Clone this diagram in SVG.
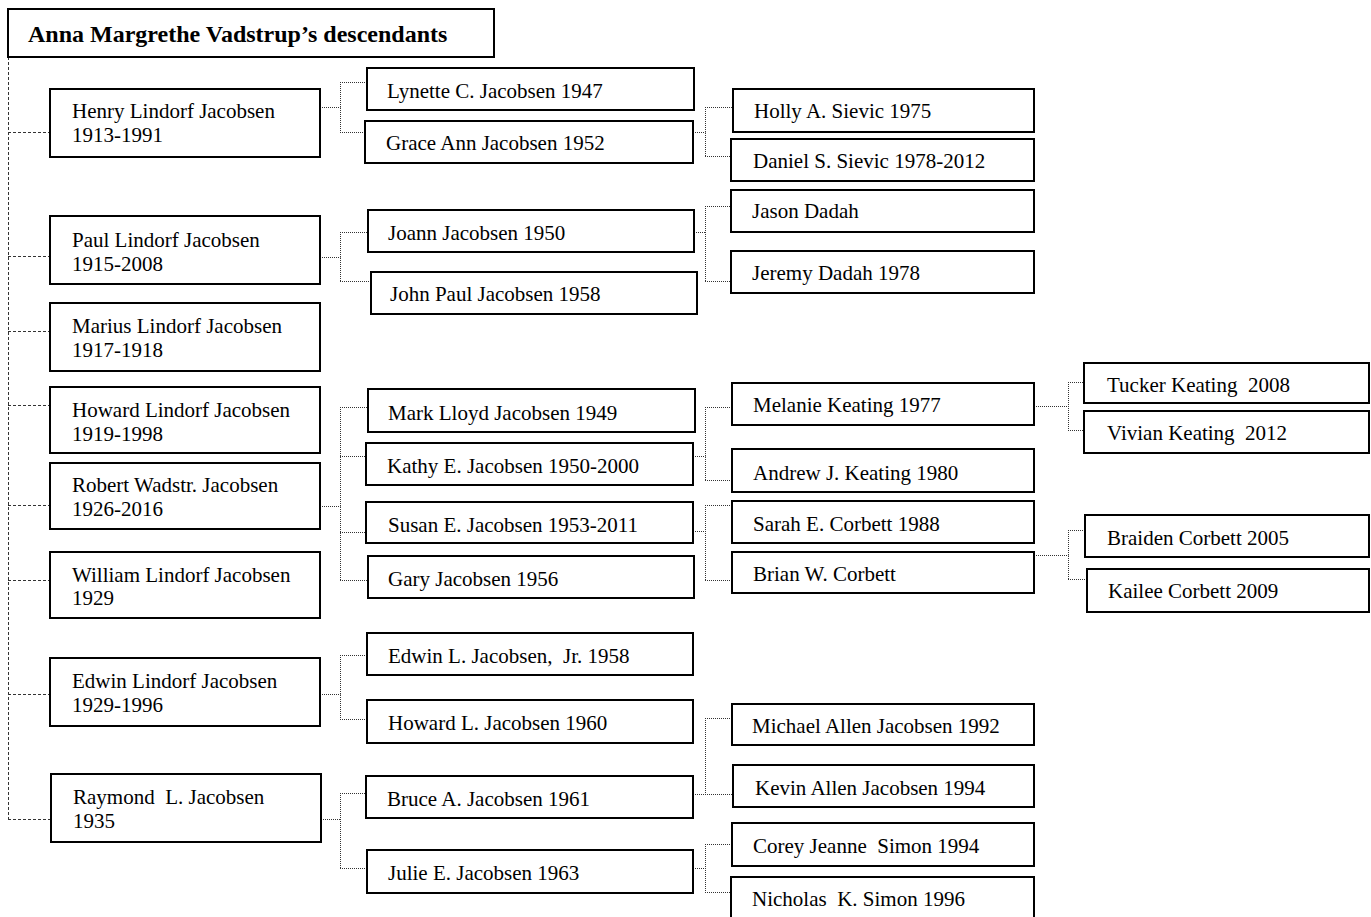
<svg xmlns="http://www.w3.org/2000/svg" width="1371" height="917" viewBox="0 0 1371 917">
  <style>
    .box { fill: #fff; stroke: #000; stroke-width: 2; }
    .name { font-family: "Liberation Serif", "Times New Roman", serif; font-size: 21px; fill: #000; white-space: pre; }
    .title { font-family: "Liberation Serif", "Times New Roman", serif; font-size: 24px; font-weight: bold; fill: #000; }
    .spine { fill: none; stroke: #333; stroke-width: 1; stroke-dasharray: 3 2; }
    .link { fill: none; stroke: #333; stroke-width: 1; stroke-dasharray: 1 1; }
  </style>
  <rect width="1371" height="917" fill="#fff"/>

  <!-- connectors -->
  <g id="connectors">
    <!-- root spine and generation 1 stubs -->
    <path class="spine" d="M8.5 57V819.5 M8 132.5H50 M8 256.5H50 M8 331.5H50 M8 405.5H50 M8 505.5H50 M8 580.5H50 M8 694.5H50 M8 819.5H51"/>
    <!-- generation 1 to 2 -->
    <path class="link" d="M320 107.5H340.5 M340.5 82V132 M340 82.5H367 M340 132.5H365"/>
    <path class="link" d="M320 257.5H340.5 M340.5 232V281 M340 232.5H368 M340 281.5H371"/>
    <path class="link" d="M320 506.5H340.5 M340.5 407V580 M340 407.5H368 M340 456.5H366 M340 532.5H366 M340 580.5H368"/>
    <path class="link" d="M320 694.5H340.5 M340.5 655V719 M340 655.5H367 M340 719.5H367"/>
    <path class="link" d="M321 819.5H340.5 M340.5 793V868 M340 793.5H366 M340 868.5H367"/>
    <!-- generation 2 to 3 -->
    <path class="link" d="M693 132.5H705.5 M705.5 107V156 M705 107.5H733 M705 156.5H731"/>
    <path class="link" d="M694 232.5H705.5 M705.5 206V281 M705 206.5H731 M705 281.5H731"/>
    <path class="link" d="M693 456.5H705.5 M705.5 407V480 M705 407.5H732 M705 480.5H732"/>
    <path class="link" d="M693 531.5H705.5 M705.5 505V580 M705 505.5H732 M705 580.5H732"/>
    <path class="link" d="M693 794.5H705.5 M705.5 718V794 M705 718.5H732 M705 794.5H733"/>
    <path class="link" d="M693 868.5H705.5 M705.5 844V892 M705 844.5H732 M705 892.5H731"/>
    <!-- generation 3 to 4 -->
    <path class="link" d="M1034 406.5H1068.5 M1068.5 382V430 M1068 382.5H1084 M1068 430.5H1084"/>
    <path class="link" d="M1034 555.5H1068.5 M1068.5 530V579 M1068 530.5H1085 M1068 579.5H1087"/>
  </g>

  <!-- root -->
  <g id="root">
    <rect class="box" x="8" y="9" width="486" height="48"/>
    <text class="title" x="28" y="42">Anna Margrethe Vadstrup’s descendants</text>
  </g>

  <!-- generation 1 -->
  <g id="henry"><rect class="box" x="50" y="89" width="270" height="68"/><text class="name" x="72" y="118">Henry Lindorf Jacobsen</text><text class="name" x="72" y="142">1913-1991</text></g>
  <g id="paul"><rect class="box" x="50" y="216" width="270" height="68"/><text class="name" x="72" y="247">Paul Lindorf Jacobsen</text><text class="name" x="72" y="271">1915-2008</text></g>
  <g id="marius"><rect class="box" x="50" y="303" width="270" height="68"/><text class="name" x="72" y="333">Marius Lindorf Jacobsen</text><text class="name" x="72" y="357">1917-1918</text></g>
  <g id="howard"><rect class="box" x="50" y="387" width="270" height="66"/><text class="name" x="72" y="417">Howard Lindorf Jacobsen</text><text class="name" x="72" y="441">1919-1998</text></g>
  <g id="robert"><rect class="box" x="50" y="463" width="270" height="66"/><text class="name" x="72" y="492">Robert Wadstr. Jacobsen</text><text class="name" x="72" y="516">1926-2016</text></g>
  <g id="william"><rect class="box" x="50" y="552" width="270" height="66"/><text class="name" x="72" y="582">William Lindorf Jacobsen</text><text class="name" x="72" y="605">1929</text></g>
  <g id="edwin"><rect class="box" x="50" y="658" width="270" height="68"/><text class="name" x="72" y="688">Edwin Lindorf Jacobsen</text><text class="name" x="72" y="712">1929-1996</text></g>
  <g id="raymond"><rect class="box" x="51" y="774" width="270" height="68"/><text class="name" x="73" y="804">Raymond  L. Jacobsen</text><text class="name" x="73" y="828">1935</text></g>

  <!-- generation 2 -->
  <g id="lynette"><rect class="box" x="367" y="68" width="327" height="42"/><text class="name" x="387" y="98">Lynette C. Jacobsen 1947</text></g>
  <g id="grace"><rect class="box" x="365" y="121" width="328" height="42"/><text class="name" x="386" y="150">Grace Ann Jacobsen 1952</text></g>
  <g id="joann"><rect class="box" x="368" y="210" width="326" height="42"/><text class="name" x="388" y="240">Joann Jacobsen 1950</text></g>
  <g id="johnpaul"><rect class="box" x="371" y="272" width="326" height="42"/><text class="name" x="390" y="301">John Paul Jacobsen 1958</text></g>
  <g id="mark"><rect class="box" x="368" y="389" width="327" height="43"/><text class="name" x="388" y="420">Mark Lloyd Jacobsen 1949</text></g>
  <g id="kathy"><rect class="box" x="366" y="443" width="327" height="42"/><text class="name" x="387" y="473">Kathy E. Jacobsen 1950-2000</text></g>
  <g id="susan"><rect class="box" x="366" y="502" width="327" height="41"/><text class="name" x="388" y="532">Susan E. Jacobsen 1953-2011</text></g>
  <g id="gary"><rect class="box" x="368" y="556" width="326" height="42"/><text class="name" x="388" y="586">Gary Jacobsen 1956</text></g>
  <g id="edwinjr"><rect class="box" x="367" y="633" width="326" height="42"/><text class="name" x="388" y="663">Edwin L. Jacobsen,  Jr. 1958</text></g>
  <g id="howardl"><rect class="box" x="367" y="700" width="326" height="43"/><text class="name" x="388" y="730">Howard L. Jacobsen 1960</text></g>
  <g id="bruce"><rect class="box" x="366" y="776" width="327" height="42"/><text class="name" x="387" y="806">Bruce A. Jacobsen 1961</text></g>
  <g id="julie"><rect class="box" x="367" y="850" width="326" height="43"/><text class="name" x="388" y="880">Julie E. Jacobsen 1963</text></g>

  <!-- generation 3 -->
  <g id="holly"><rect class="box" x="733" y="89" width="301" height="43"/><text class="name" x="754" y="118">Holly A. Sievic 1975</text></g>
  <g id="daniel"><rect class="box" x="731" y="139" width="303" height="42"/><text class="name" x="753" y="168">Daniel S. Sievic 1978-2012</text></g>
  <g id="jason"><rect class="box" x="731" y="190" width="303" height="42"/><text class="name" x="752" y="218">Jason Dadah</text></g>
  <g id="jeremy"><rect class="box" x="731" y="251" width="303" height="42"/><text class="name" x="752" y="280">Jeremy Dadah 1978</text></g>
  <g id="melanie"><rect class="box" x="732" y="383" width="302" height="42"/><text class="name" x="753" y="412">Melanie Keating 1977</text></g>
  <g id="andrew"><rect class="box" x="732" y="449" width="302" height="43"/><text class="name" x="753" y="480">Andrew J. Keating 1980</text></g>
  <g id="sarah"><rect class="box" x="732" y="501" width="302" height="42"/><text class="name" x="753" y="531">Sarah E. Corbett 1988</text></g>
  <g id="brian"><rect class="box" x="732" y="552" width="302" height="41"/><text class="name" x="753" y="581">Brian W. Corbett</text></g>
  <g id="michael"><rect class="box" x="732" y="704" width="302" height="41"/><text class="name" x="752" y="733">Michael Allen Jacobsen 1992</text></g>
  <g id="kevin"><rect class="box" x="733" y="765" width="301" height="42"/><text class="name" x="755" y="795">Kevin Allen Jacobsen 1994</text></g>
  <g id="corey"><rect class="box" x="732" y="823" width="302" height="43"/><text class="name" x="753" y="853">Corey Jeanne  Simon 1994</text></g>
  <g id="nicholas"><rect class="box" x="731" y="877" width="303" height="45"/><text class="name" x="752" y="906">Nicholas  K. Simon 1996</text></g>

  <!-- generation 4 -->
  <g id="tucker"><rect class="box" x="1084" y="363" width="285" height="40"/><text class="name" x="1107" y="392">Tucker Keating  2008</text></g>
  <g id="vivian"><rect class="box" x="1084" y="411" width="285" height="42"/><text class="name" x="1107" y="440">Vivian Keating  2012</text></g>
  <g id="braiden"><rect class="box" x="1085" y="515" width="284" height="42"/><text class="name" x="1107" y="545">Braiden Corbett 2005</text></g>
  <g id="kailee"><rect class="box" x="1087" y="569" width="282" height="43"/><text class="name" x="1108" y="598">Kailee Corbett 2009</text></g>
</svg>
